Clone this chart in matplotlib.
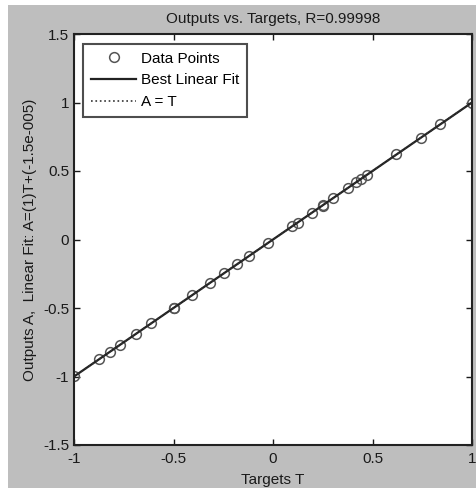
import numpy as np
import matplotlib.pyplot as plt
from matplotlib.patches import Rectangle

plt.rcParams['font.family'] = ['Liberation Sans', 'DejaVu Sans']

# targets, outputs almost identical (R=0.99998)
targets = [-1.0, -0.875, -0.82, -0.77, -0.69, -0.615, -0.5, -0.5, -0.405, -0.315,
           -0.245, -0.18, -0.12, -0.025, 0.095, 0.125, 0.195, 0.25, 0.25, 0.30,
           0.375, 0.415, 0.44, 0.47, 0.62, 0.745, 0.84, 1.0]
outputs = [-0.999, -0.873, -0.822, -0.768, -0.692, -0.613, -0.502, -0.498, -0.404, -0.317,
           -0.243, -0.181, -0.121, -0.024, 0.097, 0.123, 0.196, 0.248, 0.252, 0.301,
           0.373, 0.417, 0.438, 0.471, 0.621, 0.744, 0.842, 0.999]
fit_slope = 1.0
fit_offset = -1.5e-5
r_value = 0.99998

xticks = [-1, -0.5, 0, 0.5, 1]
xticklabels = ['-1', '-0.5', '0', '0.5', '1']
yticks = [-1.5, -1, -0.5, 0, 0.5, 1, 1.5]
yticklabels = ['-1.5', '-1', '-0.5', '0', '0.5', '1', '1.5']

W, H = 477, 488
fig = plt.figure(figsize=(W/100, H/100), dpi=100)
fig.patch.set_facecolor('white')
fig.patches.append(Rectangle((8/W, 0), 1 - 8/W, (H - 5)/H, transform=fig.transFigure,
                             facecolor='#bebebe', edgecolor='none', zorder=-10))

ax = fig.add_axes([74/W, (H - 445)/H, (472 - 74)/W, (445 - 34)/H])
ax.set_facecolor('white')

ax.plot(targets, outputs, 'o', mfc='none', mec='#555555', ms=7, mew=1.1, label='Data Points')
t = np.array([-1.0, 1.0])
ax.plot(t, fit_slope*t + fit_offset, '-', color='#222222', lw=1.6, label='Best Linear Fit')
ax.plot(t, t, ':', color='#333333', lw=1.2, label='A = T')

ax.set_xlim(-1, 1)
ax.set_ylim(-1.5, 1.5)
ax.set_xticks(xticks)
ax.set_xticklabels(xticklabels)
ax.set_yticks(yticks)
ax.set_yticklabels(yticklabels)
ax.tick_params(direction='in', top=True, right=True, length=4, width=1, labelsize=11,
               colors='#1a1a1a', pad=3.5)
ax.tick_params(axis='x', pad=5)
for s in ax.spines.values():
    s.set_linewidth(1.5)
    s.set_color('#222222')

ax.set_title('Outputs vs. Targets, R=%.5f' % r_value, fontsize=11, pad=8, color='#1a1a1a')
ax.set_xlabel('Targets T', fontsize=11, labelpad=5, color='#1a1a1a')
ax.set_ylabel('Outputs A,  Linear Fit: A=(1)T+(-1.5e-005)', fontsize=11, labelpad=4,
              color='#1a1a1a')

leg = ax.legend(loc='upper left', bbox_to_anchor=(83/W, 1 - 44/H), bbox_transform=fig.transFigure,
                borderaxespad=0, fontsize=11, fancybox=False, handlelength=3.0,
                handletextpad=0.3, labelspacing=0.5, borderpad=0.5)
leg.get_frame().set_edgecolor('#222222')
leg.get_frame().set_linewidth(1.5)

fig.savefig('out.png', dpi=100)
